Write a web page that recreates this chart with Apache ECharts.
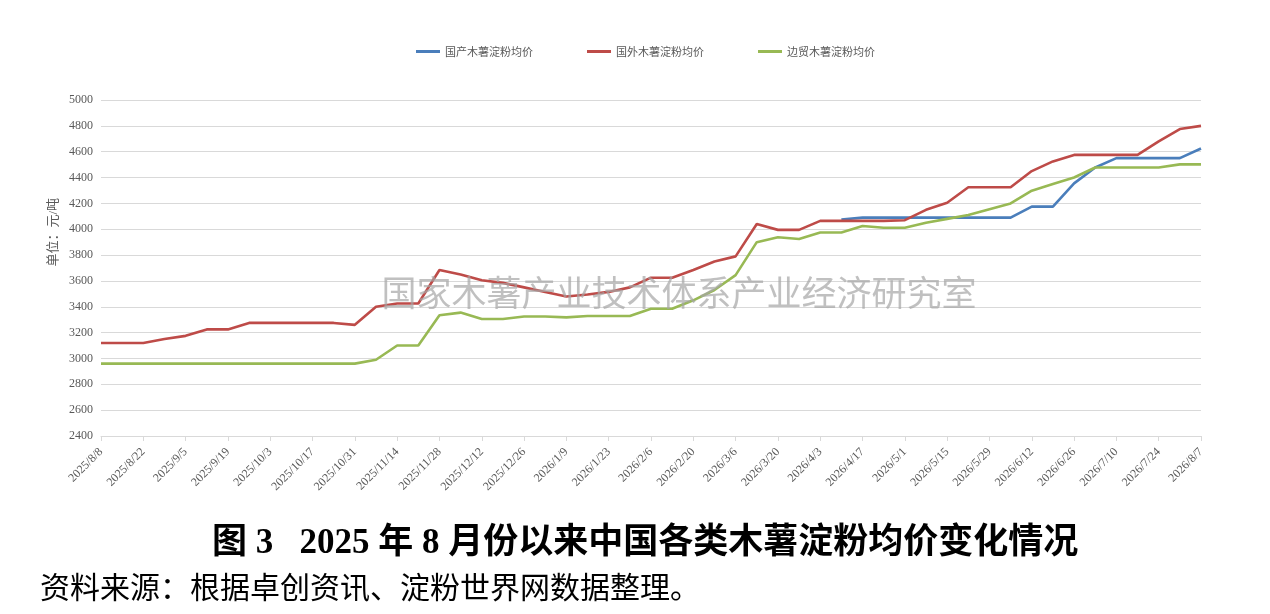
<!DOCTYPE html>
<html>
<head>
<meta charset="utf-8">
<script src="https://cdn.jsdelivr.net/npm/echarts@6/dist/echarts.min.js"></script>
<style>
  html, body { margin: 0; padding: 0; background: #fff; }
  #chart { width: 1270px; height: 614px; }
</style>
</head>
<body>
<div id="chart"></div>
<script>
const dates = [
  '2025/8/8', '2025/8/15', '2025/8/22', '2025/8/29', '2025/9/5', '2025/9/12', '2025/9/19', '2025/9/26',
  '2025/10/3', '2025/10/10', '2025/10/17', '2025/10/24', '2025/10/31', '2025/11/7', '2025/11/14', '2025/11/21',
  '2025/11/28', '2025/12/5', '2025/12/12', '2025/12/19', '2025/12/26', '2026/1/2', '2026/1/9', '2026/1/16',
  '2026/1/23', '2026/1/30', '2026/2/6', '2026/2/13', '2026/2/20', '2026/2/27', '2026/3/6', '2026/3/13',
  '2026/3/20', '2026/3/27', '2026/4/3', '2026/4/10', '2026/4/17', '2026/4/24', '2026/5/1', '2026/5/8',
  '2026/5/15', '2026/5/22', '2026/5/29', '2026/6/5', '2026/6/12', '2026/6/19', '2026/6/26', '2026/7/3',
  '2026/7/10', '2026/7/17', '2026/7/24', '2026/7/31', '2026/8/7'
]

// 国产 (starts 2026/4/10)
const domestic = [
  null, null, null, null, null, null, null, null, null, null, null, null, null, null, null, null,
  null, null, null, null, null, null, null, null, null, null, null, null, null, null, null, null,
  null, null, null, 4075, 4090, 4090, 4090, 4090, 4090, 4090, 4090, 4090, 4175, 4175, 4355, 4478,
  4550, 4550, 4550, 4550, 4625
]
// 国外
const foreign = [
  3120, 3120, 3120, 3150, 3175, 3225, 3225, 3275, 3275, 3275, 3275, 3275, 3260, 3400, 3425, 3425,
  3685, 3650, 3605, 3585, 3550, 3515, 3480, 3495, 3515, 3550, 3625, 3625, 3685, 3750, 3790, 4040,
  3995, 3995, 4065, 4065, 4065, 4065, 4070, 4150, 4205, 4325, 4325, 4325, 4450, 4525, 4575, 4575,
  4575, 4575, 4680, 4775, 4800
]
// 边贸
const border = [
  2960, 2960, 2960, 2960, 2960, 2960, 2960, 2960, 2960, 2960, 2960, 2960, 2960, 2990, 3100, 3100,
  3335, 3355, 3305, 3305, 3325, 3325, 3318, 3328, 3328, 3328, 3385, 3385, 3450, 3530, 3645, 3900,
  3938, 3925, 3975, 3975, 4025, 4012, 4012, 4050, 4080, 4110, 4155, 4200, 4298, 4350, 4400, 4478,
  4478, 4478, 4478, 4502, 4502
]

const seriesNames = ['国产木薯淀粉均价', '国外木薯淀粉均价', '边贸木薯淀粉均价']
const colors = ['#4a7ebb', '#be4b48', '#98b954']

const serif = '"Liberation Serif", "Noto Sans CJK SC", serif'
const cjk = '"Noto Sans CJK SC", sans-serif'

const chart = echarts.init(document.getElementById('chart'))

const lineSeries = (name, data, color) => ({
  name,
  type: 'line',
  data,
  symbol: 'none',
  z: 3,
  lineStyle: { color, width: 2.6 },
  itemStyle: { color }
})

chart.setOption({
  animation: false,
  color: colors,
  legend: {
    top: 41,
    left: 411,
    itemGap: 54,
    itemWidth: 24,
    itemHeight: 3,
    icon: 'rect',
    textStyle: { fontFamily: cjk, fontSize: 11, color: '#595959' },
    data: seriesNames
  },
  grid: { left: 101, right: 69, top: 100, bottom: 178, containLabel: false },
  xAxis: {
    type: 'category',
    data: dates,
    boundaryGap: false,
    axisLine: { lineStyle: { color: '#d9d9d9' } },
    axisTick: { interval: 1, length: 5, lineStyle: { color: '#d9d9d9' } },
    axisLabel: {
      interval: 1,
      rotate: 45,
      margin: 14,
      fontFamily: serif,
      fontSize: 12,
      color: '#595959'
    }
  },
  yAxis: {
    type: 'value',
    min: 2400,
    max: 5000,
    interval: 200,
    axisLine: { show: false },
    axisTick: { show: false },
    splitLine: { lineStyle: { color: '#d9d9d9' } },
    axisLabel: {
      margin: 8,
      fontFamily: serif,
      fontSize: 12,
      color: '#595959',
      formatter: v => String(v)
    }
  },
  series: [
    lineSeries(seriesNames[0], domestic, colors[0]),
    lineSeries(seriesNames[1], foreign, colors[1]),
    lineSeries(seriesNames[2], border, colors[2])
  ],
  graphic: [
    {
      type: 'text',
      left: 47,
      top: 198,
      rotation: Math.PI / 2,
      style: {
        text: '单位：元/吨',
        font: '13px ' + serif,
        fill: '#595959'
      }
    },
    {
      type: 'text',
      x: 679,
      y: 293,
      z: 10,
      style: {
        text: '国家木薯产业技术体系产业经济研究室',
        font: '35px ' + cjk,
        fill: 'rgba(165,165,165,0.7)',
        align: 'center',
        verticalAlign: 'middle'
      }
    },
    {
      type: 'text',
      x: 212,
      y: 544,
      style: {
        text: '图 3   2025 年 8 月份以来中国各类木薯淀粉均价变化情况',
        font: 'bold 35px ' + serif,
        fill: '#000',
        align: 'left',
        verticalAlign: 'middle'
      }
    },
    {
      type: 'text',
      x: 40,
      y: 587,
      style: {
        text: '资料来源：根据卓创资讯、淀粉世界网数据整理。',
        font: '30px ' + cjk,
        fill: '#000',
        align: 'left',
        verticalAlign: 'middle'
      }
    }
  ]
})
</script>
</body>
</html>
